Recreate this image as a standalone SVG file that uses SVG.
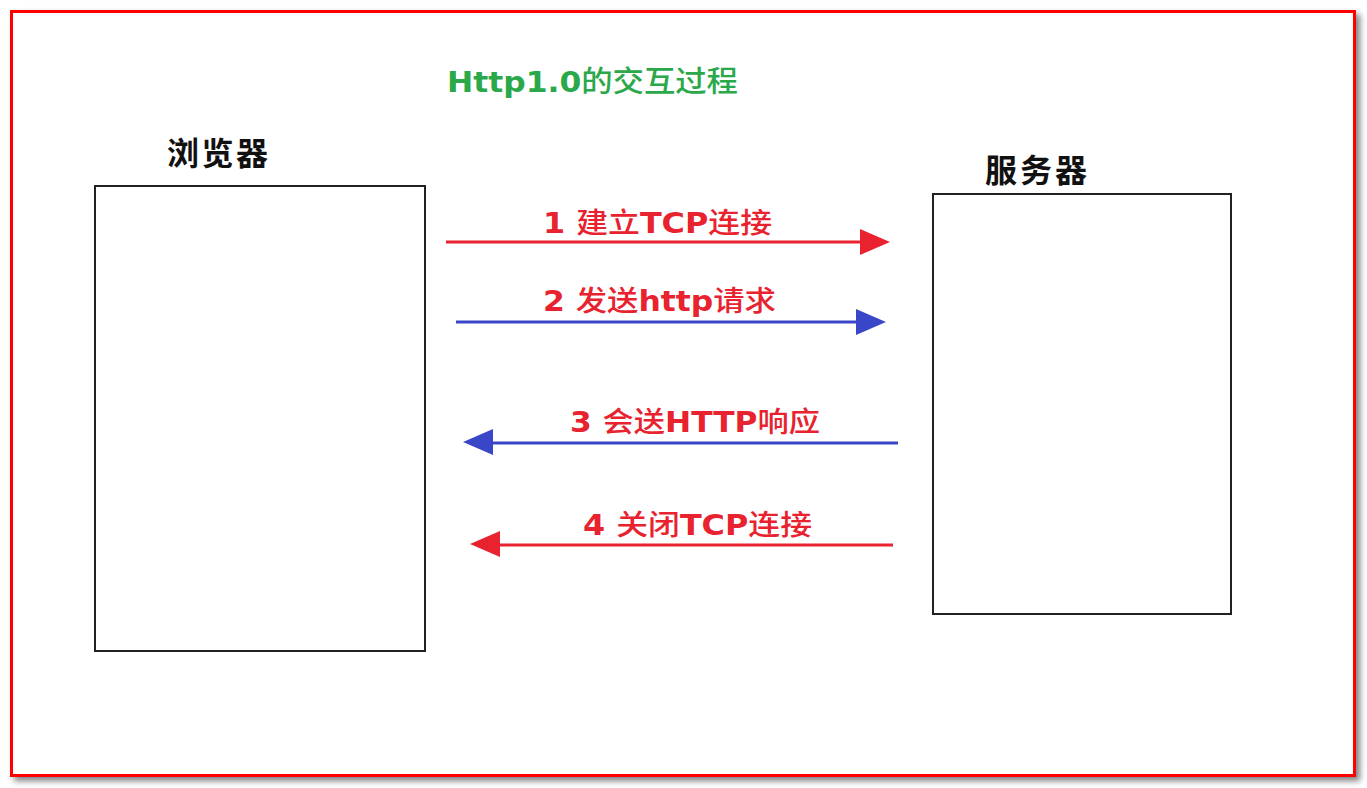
<svg xmlns="http://www.w3.org/2000/svg" width="1367" height="788" viewBox="0 0 1367 788">
<style>
.lbl{font-family:"DejaVu Sans","Noto Sans CJK SC",sans-serif;font-size:28px;font-weight:bold;fill:#e8222e}
.cn{font-weight:500}
.hdr{font-family:"Noto Sans CJK SC",sans-serif;font-size:32px;font-weight:bold;fill:#111}
.box{fill:#fff;stroke:#222;stroke-width:2}
</style>
<defs>
<filter id="sh" x="-5%" y="-5%" width="110%" height="110%"><feGaussianBlur in="SourceAlpha" stdDeviation="3"/><feOffset dx="4" dy="4"/><feComponentTransfer><feFuncA type="linear" slope="0.5"/></feComponentTransfer><feMerge><feMergeNode/><feMergeNode in="SourceGraphic"/></feMerge></filter>
</defs>
<rect width="1367" height="788" fill="#fff"/>
<rect x="11.5" y="11.5" width="1343" height="764" fill="#fff" stroke="#ff0000" stroke-width="3" filter="url(#sh)"/>
<text x="447" y="92" textLength="291" lengthAdjust="spacingAndGlyphs" font-family="DejaVu Sans,'Noto Sans CJK SC',sans-serif" font-size="29" font-weight="bold" fill="#2aa84a">Http1.0<tspan font-weight="500">的交互过程</tspan></text>
<g id="browser">
<rect class="box" x="95" y="186" width="330" height="465"/>
<text class="hdr" x="167" y="165" textLength="101">浏览器</text>
</g>
<g id="server">
<rect class="box" x="933" y="194" width="298" height="420"/>
<text class="hdr" x="985" y="182" textLength="102">服务器</text>
</g>
<g id="connectors">
<line x1="446" y1="242" x2="860" y2="242" stroke="#e8222e" stroke-width="3"/>
<path d="M860,229 L890,242 L860,255 z" fill="#e8222e"/>
<line x1="456" y1="322" x2="858" y2="322" stroke="#3a46c8" stroke-width="3"/>
<path d="M856,309 L886,322 L856,335 z" fill="#3a46c8"/>
<line x1="898" y1="443" x2="492" y2="443" stroke="#3a46c8" stroke-width="3"/>
<path d="M493,429 L463,442 L493,455 z" fill="#3a46c8"/>
<line x1="893" y1="545" x2="498" y2="545" stroke="#e8222e" stroke-width="3"/>
<path d="M500,531 L470,544 L500,557 z" fill="#e8222e"/>
<text class="lbl" x="543" y="233" textLength="229" lengthAdjust="spacingAndGlyphs">1 <tspan class="cn">建立</tspan>TCP<tspan class="cn">连接</tspan></text>
<text class="lbl" x="543" y="311" textLength="233" lengthAdjust="spacingAndGlyphs">2 <tspan class="cn">发送</tspan>http<tspan class="cn">请求</tspan></text>
<text class="lbl" x="570" y="432" textLength="250" lengthAdjust="spacingAndGlyphs">3 <tspan class="cn">会送</tspan>HTTP<tspan class="cn">响应</tspan></text>
<text class="lbl" x="583" y="535" textLength="229" lengthAdjust="spacingAndGlyphs">4 <tspan class="cn">关闭</tspan>TCP<tspan class="cn">连接</tspan></text>
</g>
</svg>
